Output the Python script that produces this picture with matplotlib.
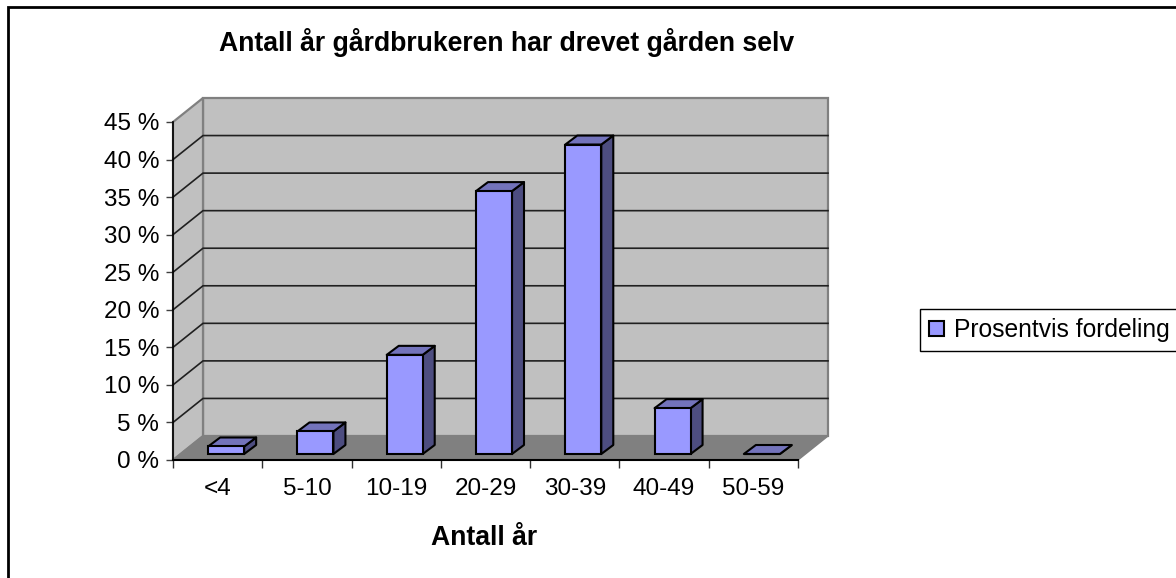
import numpy as np
import matplotlib
matplotlib.use('Agg')
import matplotlib.pyplot as plt
from matplotlib.patches import Patch, Rectangle

plt.rcParams['font.family'] = ['Liberation Sans', 'DejaVu Sans']

categories = ['<4', '5-10', '10-19', '20-29', '30-39', '40-49', '50-59']
values = [1, 3, 13.2, 35, 41.2, 6.1, 0]
y_ticks = [0, 5, 10, 15, 20, 25, 30, 35, 40, 45]
title = 'Antall år gårdbrukeren har drevet gården selv'
xlabel = 'Antall år'
series_name = 'Prosentvis fordeling'

W, H = 1176, 578
fig = plt.figure(figsize=(W / 100, H / 100), dpi=100, facecolor='white')
ax = fig.add_axes([173 / W, (H - 460) / H, 625 / W, 338 / H])
ax.set_xlim(0, 7)
ax.set_ylim(0, 45)
ax.patch.set_visible(False)

# pixel sizes turned into data units
px_x = 7 / 625
px_y = 45 / 338
dx = 30 * px_x      # depth of the chart box
dy = 24 * px_y
bar_w = 36 * px_x
bx = 12 * px_x      # depth of a bar
by = 9 * px_y
base = 6 * px_y     # bar foot above the front edge
shift = 8.5 * px_x

wall = '#c0c0c0'
edge = '#808080'
grid = '#202020'

# walls and floor
ax.fill([dx, 7 + dx, 7 + dx, dx], [dy, dy, 45 + dy, 45 + dy], fc=wall, ec=edge, lw=1.6, zorder=1, clip_on=False)
ax.fill([0, dx, dx, 0], [0, dy, 45 + dy, 45], fc=wall, ec=edge, lw=1.6, zorder=1, clip_on=False)
ax.fill([0, 7, 7 + dx, dx], [0, 0, dy, dy], fc=edge, ec=edge, lw=1, zorder=1, clip_on=False)

# grid lines, back wall and side wall
for t in y_ticks[1:-1]:
    ax.plot([0, dx, 7 + dx], [t, t + dy, t + dy], color=grid, lw=1.2, zorder=2, clip_on=False)

# bars
x = np.arange(len(categories)) + 0.5 + shift
for xi, v in zip(x, values):
    l, r = xi - bar_w / 2, xi + bar_w / 2
    top = base + v
    ax.fill([r, r + bx, r + bx, r], [base, base + by, top + by, top], fc='#4d4d80', ec='black', lw=1.5, zorder=3, joinstyle='round')
    ax.fill([l, r, r + bx, l + bx], [top, top, top + by, top + by], fc='#7373bb', ec='black', lw=1.5, zorder=3, joinstyle='round')
ax.bar(x, values, width=bar_w, bottom=base, color='#9999ff', edgecolor='black', linewidth=1.5, zorder=4)

ax.set_xticks(np.arange(8))
ax.set_xticks(np.arange(7) + 0.5, minor=True)
ax.set_xticklabels([])
ax.set_xticklabels(categories, minor=True, fontsize=17.5, color='black')
ax.tick_params(axis='x', which='major', length=6, width=1, color='#303030')
ax.tick_params(axis='x', which='minor', length=0, pad=13)
ax.set_yticks(y_ticks)
ax.set_yticklabels(['%d %%' % t for t in y_ticks], fontsize=17.5, color='black')
ax.tick_params(axis='y', length=5, width=1, color='#404040', pad=5)
for s in ['top', 'right']:
    ax.spines[s].set_visible(False)
ax.spines['left'].set_linewidth(1.2)
ax.spines['bottom'].set_linewidth(1.5)
for s in ax.spines.values():
    s.set_zorder(5)

ax.set_title(title, x=0.534, y=1, pad=51, fontsize=19.2, fontweight='bold')
ax.set_xlabel(xlabel, x=0.498, labelpad=18, fontsize=19.2, fontweight='bold')

# outer frame, its right and bottom edges lie outside the picture
fig.add_artist(Rectangle((8 / W, -0.02), 1.1, (H - 7) / H + 0.02, transform=fig.transFigure, fc='none', ec='black', lw=2, zorder=0))

leg = fig.legend(handles=[Patch(fc='#9999ff', ec='black', lw=1.5, label=series_name)],
                 loc='center left', bbox_to_anchor=(920 / W, (H - 330) / H),
                 fontsize=17.7, fancybox=False, edgecolor='black', framealpha=1,
                 borderpad=0.38, borderaxespad=0, handlelength=0.6, handleheight=0.6, handletextpad=0.4)
leg.get_frame().set_linewidth(1)

fig.savefig('out.png', dpi=100)
